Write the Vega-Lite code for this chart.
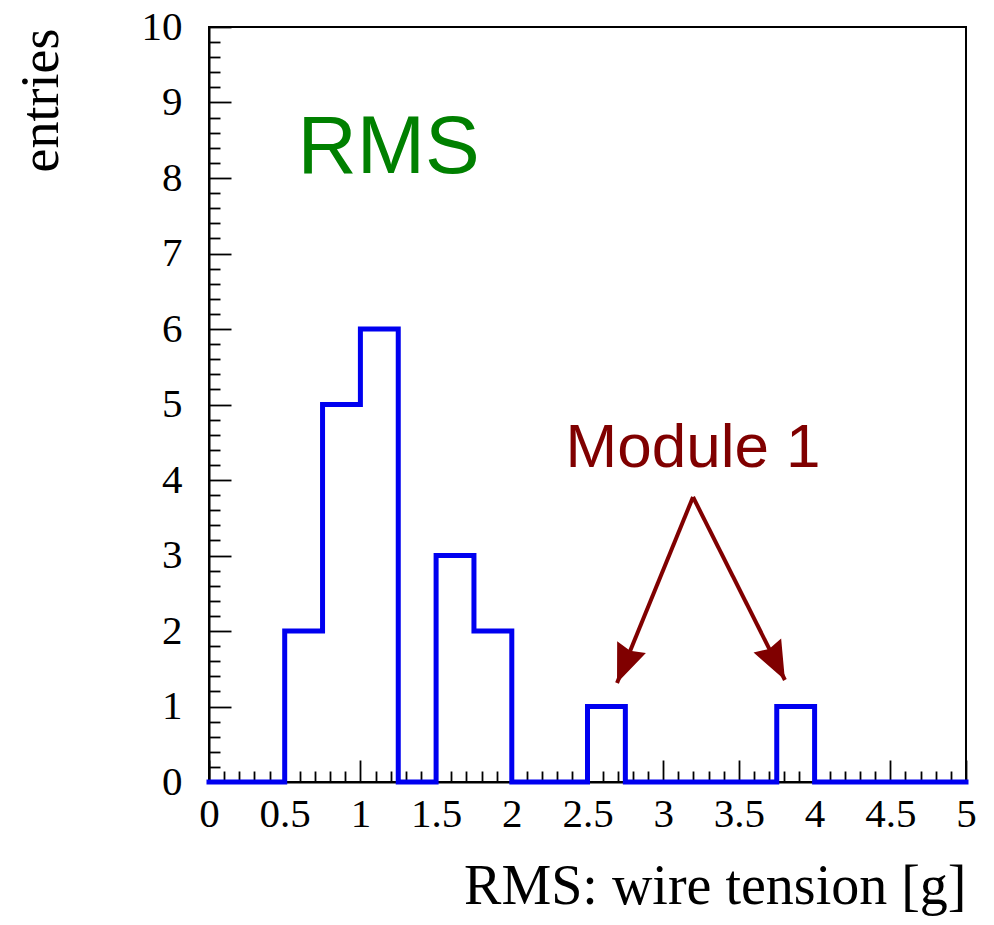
{
  "$schema": "https://vega.github.io/schema/vega-lite/v6.json",
  "width": 757,
  "height": 755,
  "autosize": "none",
  "padding": {"left": 209, "top": 27, "right": 28, "bottom": 143},
  "background": "white",
  "config": {
    "view": {"stroke": "black", "strokeWidth": 2},
    "axis": {"grid": false}
  },
  "data": {"values": [
    {"kind": "hist", "x": 0, "y": 0}, {"kind": "hist", "x": 0.25, "y": 0}, {"kind": "hist", "x": 0.5, "y": 2}, {"kind": "hist", "x": 0.75, "y": 5},
    {"kind": "hist", "x": 1.0, "y": 6}, {"kind": "hist", "x": 1.25, "y": 0}, {"kind": "hist", "x": 1.5, "y": 3}, {"kind": "hist", "x": 1.75, "y": 2},
    {"kind": "hist", "x": 2.0, "y": 0}, {"kind": "hist", "x": 2.25, "y": 0}, {"kind": "hist", "x": 2.5, "y": 1}, {"kind": "hist", "x": 2.75, "y": 0},
    {"kind": "hist", "x": 3.0, "y": 0}, {"kind": "hist", "x": 3.25, "y": 0}, {"kind": "hist", "x": 3.5, "y": 0}, {"kind": "hist", "x": 3.75, "y": 1},
    {"kind": "hist", "x": 4.0, "y": 0}, {"kind": "hist", "x": 4.25, "y": 0}, {"kind": "hist", "x": 4.5, "y": 0}, {"kind": "hist", "x": 4.75, "y": 0},
    {"kind": "hist", "x": 5.0, "y": 0},
    {"kind": "arrow", "side": "L", "x": 2.695, "y": 1.311, "x2": 3.197, "y2": 3.775},
    {"kind": "arrow", "side": "R", "x": 3.804, "y": 1.351, "x2": 3.197, "y2": 3.775},
    {"kind": "rms", "x": 0.585, "y": 8.07, "label": "RMS"},
    {"kind": "module", "x": 2.355, "y": 4.17, "label": "Module 1"}
  ]},
  "encoding": {
    "x": {
      "field": "x", "type": "quantitative",
      "title": "RMS: wire tension [g]",
      "scale": {"domain": [0, 5], "nice": false, "zero": false},
      "axis": {
        "values": [0,0.1,0.2,0.3,0.4,0.5,0.6,0.7,0.8,0.9,1,1.1,1.2,1.3,1.4,1.5,1.6,1.7,1.8,1.9,2,2.1,2.2,2.3,2.4,2.5,2.6,2.7,2.8,2.9,3,3.1,3.2,3.3,3.4,3.5,3.6,3.7,3.8,3.9,4,4.1,4.2,4.3,4.4,4.5,4.6,4.7,4.8,4.9,5],
        "labelExpr": "abs(datum.value*2 - round(datum.value*2)) < 0.001 ? format(datum.value, '~g') : ''",
        "labelOverlap": false,
        "labelFlush": false,
        "labelFont": "Liberation Serif",
        "labelFontSize": 41,
        "labelColor": "black",
        "labelPadding": 34,
        "tickSize": {"condition": {"test": "abs(datum.value*2 - round(datum.value*2)) < 0.001", "value": -22}, "value": -11},
        "tickColor": "black",
        "tickWidth": 1.8,
        "domainColor": "black",
        "domainWidth": 2,
        "titleFont": "Liberation Serif",
        "titleFontSize": 56,
        "titleFontWeight": "normal",
        "titleColor": "black",
        "titleAlign": "right",
        "titleAnchor": "end",
        "titleBaseline": "alphabetic",
        "titleX": 757,
        "titleY": 121
      }
    },
    "y": {
      "field": "y", "type": "quantitative",
      "title": "entries",
      "scale": {"domain": [0, 10], "nice": false},
      "axis": {
        "values": [0,0.2,0.4,0.6,0.8,1,1.2,1.4,1.6,1.8,2,2.2,2.4,2.6,2.8,3,3.2,3.4,3.6,3.8,4,4.2,4.4,4.6,4.8,5,5.2,5.4,5.6,5.8,6,6.2,6.4,6.6,6.8,7,7.2,7.4,7.6,7.8,8,8.2,8.4,8.6,8.8,9,9.2,9.4,9.6,9.8,10],
        "labelExpr": "abs(datum.value - round(datum.value)) < 0.001 ? format(datum.value, '~g') : ''",
        "labelOverlap": false,
        "labelFlush": false,
        "labelFont": "Liberation Serif",
        "labelFontSize": 41,
        "labelColor": "black",
        "labelPadding": 49,
        "tickSize": {"condition": {"test": "abs(datum.value - round(datum.value)) < 0.001", "value": -22}, "value": -11},
        "tickColor": "black",
        "tickWidth": 1.8,
        "domainColor": "black",
        "domainWidth": 2,
        "titleFont": "Liberation Serif",
        "titleFontSize": 54,
        "titleFontWeight": "normal",
        "titleColor": "black",
        "titleAngle": 270,
        "titleAlign": "right",
        "titleAnchor": "end",
        "titleBaseline": "alphabetic",
        "titleX": -152,
        "titleY": 1
      }
    }
  },
  "layer": [
    {
      "transform": [{"filter": "datum.kind == 'hist'"}],
      "mark": {"type": "line", "interpolate": "step-after", "color": "#0000f0", "strokeWidth": 5, "strokeCap": "square"}
    },
    {
      "transform": [{"filter": "datum.kind == 'arrow'"}],
      "mark": {"type": "rule", "color": "#800000", "strokeWidth": 4},
      "encoding": {
        "x2": {"field": "x2"},
        "y2": {"field": "y2"}
      }
    },
    {
      "transform": [{"filter": "datum.kind == 'arrow' && datum.side == 'L'"}],
      "mark": {"type": "point", "filled": true, "opacity": 1, "color": "#800000", "shape": "M0,0L0.4,1L0,0.9L-0.4,1Z", "size": 6000, "angle": 202}
    },
    {
      "transform": [{"filter": "datum.kind == 'arrow' && datum.side == 'R'"}],
      "mark": {"type": "point", "filled": true, "opacity": 1, "color": "#800000", "shape": "M0,0L0.4,1L0,0.9L-0.4,1Z", "size": 6000, "angle": 153}
    },
    {
      "transform": [{"filter": "datum.kind == 'rms'"}],
      "mark": {"type": "text", "align": "left", "baseline": "alphabetic", "font": "Liberation Sans", "fontSize": 82, "color": "#008000"},
      "encoding": {"text": {"field": "label"}}
    },
    {
      "transform": [{"filter": "datum.kind == 'module'"}],
      "mark": {"type": "text", "align": "left", "baseline": "alphabetic", "font": "Liberation Sans", "fontSize": 62, "color": "#800000"},
      "encoding": {"text": {"field": "label"}}
    }
  ]
}
